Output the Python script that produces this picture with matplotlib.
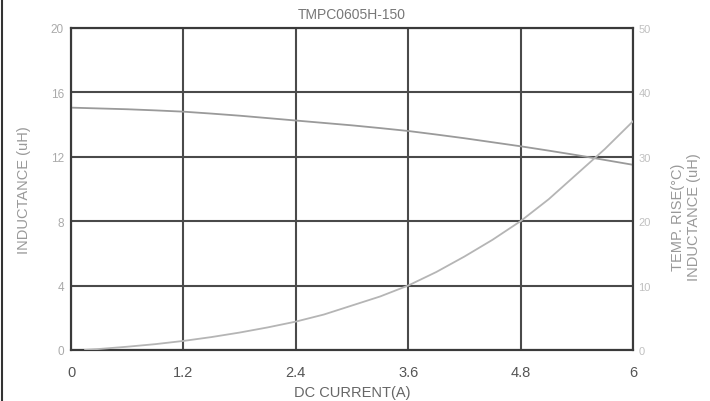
import matplotlib
matplotlib.use("Agg")
import matplotlib.pyplot as plt
from matplotlib.lines import Line2D

plt.rcParams['font.family'] = ['Liberation Sans', 'DejaVu Sans']

title = "TMPC0605H-150"
x_ticks = [0, 1.2, 2.4, 3.6, 4.8, 6]
x_tick_labels = ["0", "1.2", "2.4", "3.6", "4.8", "6"]
y_ticks = [0, 4, 8, 12, 16, 20]
y2_ticks = [0, 10, 20, 30, 40, 50]

# Inductance (uH) vs DC current (A)
ind_current = [0, 0.3, 0.6, 0.9, 1.2, 1.5, 1.8, 2.1, 2.4, 2.7, 3.0, 3.3, 3.6,
               3.9, 4.2, 4.5, 4.8, 5.1, 5.4, 5.7, 6.0]
ind_values = [15.05, 15.0, 14.95, 14.88, 14.8, 14.68, 14.55, 14.4, 14.25, 14.1,
              13.95, 13.78, 13.6, 13.38, 13.15, 12.9, 12.65, 12.38, 12.1, 11.8, 11.5]

# Temperature rise (°C) vs DC current (A)
temp_current = [0.15, 0.3, 0.6, 0.9, 1.2, 1.5, 1.8, 2.1, 2.4, 2.7, 3.0, 3.3, 3.6,
                3.9, 4.2, 4.5, 4.8, 5.1, 5.4, 5.7, 6.0]
temp_values = [0.0, 0.15, 0.5, 0.9, 1.4, 2.0, 2.7, 3.5, 4.4, 5.5, 6.9, 8.3, 10.0,
               12.1, 14.5, 17.1, 20.0, 23.4, 27.3, 31.2, 35.5]

fig = plt.figure(figsize=(7.10, 4.02), dpi=100)
ax = fig.add_axes([0.1, 0.127, 0.7915, 0.801])
ax2 = ax.twinx()

ax.plot(ind_current, ind_values, color="#9a9a9a", lw=1.3, zorder=3)
ax2.plot(temp_current, temp_values, color="#b5b5b5", lw=1.3, zorder=3)

ax.set_xlim(0, 6)
ax.set_ylim(0, 20)
ax2.set_ylim(0, 50)
ax.set_xticks(x_ticks)
ax.set_xticklabels(x_tick_labels)
ax.set_yticks(y_ticks)
ax2.set_yticks(y2_ticks)

ax.grid(True, color="#4a4a4a", lw=1.5)
ax.set_axisbelow(True)
for a in (ax, ax2):
    for s in a.spines.values():
        s.set_color("#3a3a3a")
        s.set_linewidth(1.5)

ax.tick_params(axis='x', length=0, pad=11, labelsize=10.5, labelcolor="#555555")
ax.tick_params(axis='y', length=0, pad=5, labelsize=8.5, labelcolor="#aaaaaa")
ax2.tick_params(axis='y', length=0, pad=4, labelsize=8, labelcolor="#c0c0c0")

ax.set_title(title, fontsize=10, color="#777777", pad=7)
ax.set_xlabel("DC CURRENT(A)", fontsize=10.5, color="#666666", labelpad=4)
ax.set_ylabel("INDUCTANCE (uH)", fontsize=10.5, color="#999999", labelpad=14)

fig.text(0.955, 0.46, "TEMP. RISE(°C)", rotation=90, ha='center', va='center',
         fontsize=10.5, color="#999999")
fig.text(0.978, 0.46, "INDUCTANCE (uH)", rotation=90, ha='center', va='center',
         fontsize=10.5, color="#999999")

fig.add_artist(Line2D([0.003, 0.003], [0, 1], transform=fig.transFigure,
                      color="#333333", lw=1.5))

fig.savefig("out.png", dpi=100)
